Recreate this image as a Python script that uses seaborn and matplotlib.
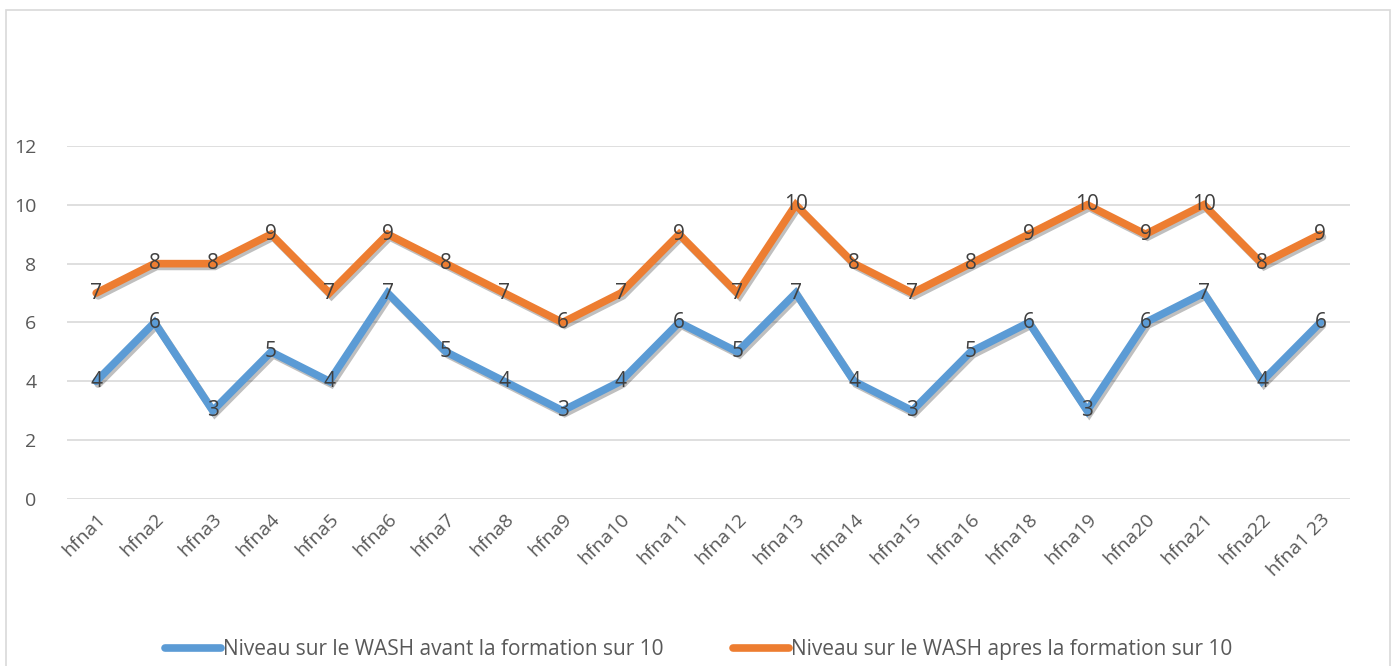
import pandas as pd
import numpy as np
import seaborn as sns
import matplotlib.pyplot as plt
import matplotlib.patheffects as pe
from matplotlib.patches import Rectangle
from matplotlib.lines import Line2D

# Data
categories = ['hfna1', 'hfna2', 'hfna3', 'hfna4', 'hfna5', 'hfna6', 'hfna7', 'hfna8',
              'hfna9', 'hfna10', 'hfna11', 'hfna12', 'hfna13', 'hfna14', 'hfna15',
              'hfna16', 'hfna18', 'hfna19', 'hfna20', 'hfna21', 'hfna22', 'hfna1 23']
avant = [4, 6, 3, 5, 4, 7, 5, 4, 3, 4, 6, 5, 7, 4, 3, 5, 6, 3, 6, 7, 4, 6]
apres = [7, 8, 8, 9, 7, 9, 8, 7, 6, 7, 9, 7, 10, 8, 7, 8, 9, 10, 9, 10, 8, 9]

label_avant = 'Niveau sur le WASH avant la formation sur 10'
label_apres = 'Niveau sur le WASH apres la formation sur 10'

df = pd.DataFrame({'cat': categories, label_avant: avant, label_apres: apres})
df['pos'] = np.arange(len(categories))
long_df = df.melt(id_vars=['cat', 'pos'], var_name='serie', value_name='valeur')

sns.set_style('white')
plt.rcParams['font.family'] = ['Open Sans', 'DejaVu Sans']

fig = plt.figure(figsize=(13.97, 6.66), dpi=100)
ax = fig.add_axes([0.048, 0.2508, 0.918, 0.5300])

palette = {label_avant: '#5b9bd5', label_apres: '#ed7d31'}
sns.lineplot(data=long_df, x='pos', y='valeur', hue='serie', palette=palette,
             linewidth=5.5, ax=ax, legend=False, sort=False)

shadow = [pe.SimpleLineShadow(offset=(1.5, -2), shadow_color='black', alpha=0.25),
          pe.Normal()]
for line in ax.lines:
    line.set_path_effects(shadow)
    line.set_solid_joinstyle('miter')

# data labels
for vals in (avant, apres):
    for i, v in enumerate(vals):
        ax.text(i, v, str(v), ha='center', va='center', fontsize=15, color='#404040')

ax.set_xlim(-0.5, len(categories) - 0.5)
ax.set_ylim(0, 12)
ax.set_yticks(range(0, 13, 2))
ax.set_xticks(df['pos'])
ax.set_xticklabels(categories, rotation=45, ha='right', rotation_mode='anchor',
                   fontsize=14, color='#595959')
ax.tick_params(axis='y', labelsize=14, labelcolor='#595959', length=0, pad=22)
ax.tick_params(axis='x', length=0, pad=8)
ax.grid(axis='y', color='#d9d9d9', linewidth=1.2)
ax.set_axisbelow(True)
for s in ax.spines.values():
    s.set_visible(False)
ax.set_xlabel('')
ax.set_ylabel('')

# legend at the bottom
handles = [Line2D([], [], color=palette[label_avant], linewidth=5.5, solid_capstyle='round'),
           Line2D([], [], color=palette[label_apres], linewidth=5.5, solid_capstyle='round')]
fig.legend(handles, [label_avant, label_apres], loc='center', bbox_to_anchor=(0.5, 0.025),
           ncol=2, frameon=False, fontsize=15, handlelength=2.7, handletextpad=0.1,
           columnspacing=3.3, labelcolor='#595959')

# outer chart border
fig.patches.append(Rectangle((0.004, -0.01), 0.991, 0.995, transform=fig.transFigure,
                             fill=False, edgecolor='#d9d9d9', linewidth=1.2))

plt.savefig('out.png', dpi=100)
